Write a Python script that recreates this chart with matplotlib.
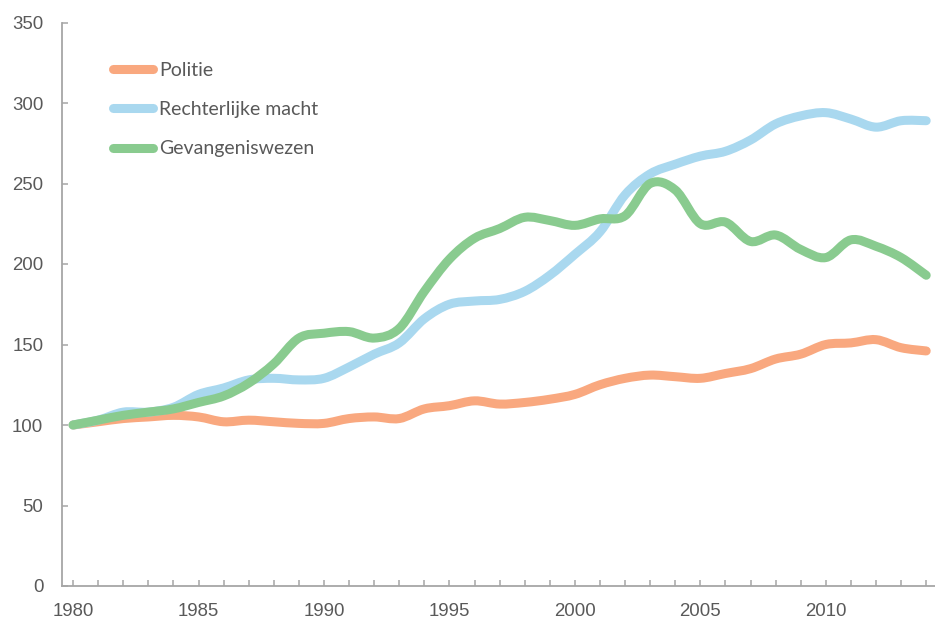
import numpy as np
import matplotlib
matplotlib.use('Agg')
import matplotlib.pyplot as plt
from matplotlib.path import Path
from matplotlib.patches import PathPatch
from matplotlib.lines import Line2D

# index 1980 = 100
years = list(range(1980, 2015))
politie = [100, 102, 104, 105, 106, 105, 102, 103, 102, 101,
           101, 104, 105, 104, 110, 112, 115, 113, 114, 116,
           119, 125, 129, 131, 130, 129, 132, 135, 141, 144,
           150, 151, 153, 148, 146]
rechterlijke_macht = [100, 103, 108, 108, 111, 119, 123, 128, 129, 128,
                      129, 136, 144, 151, 166, 175, 177, 178, 183, 193,
                      206, 220, 243, 256, 262, 267, 270, 277, 287, 292,
                      294, 290, 285, 289, 289]
gevangeniswezen = [100, 103, 106, 108, 110, 114, 118, 126, 138, 154,
                   157, 158, 154, 160, 183, 203, 216, 222, 229, 227,
                   224, 228, 230, 250, 246, 225, 226, 214, 218, 209,
                   204, 215, 211, 204, 193]
names = ['Politie', 'Rechterlijke macht', 'Gevangeniswezen']
colors = ['#f9a87f', '#a9d8ef', '#89cb8f']
tick_labels = [str(y) if y % 5 == 0 else '' for y in years]

TXT = '#595959'
AXC = '#a6a6a6'


def smooth_path(x, y):
    # excel-like smoothed line: bezier segments through every point
    pts = np.column_stack([x, y]).astype(float)
    n = len(pts)
    verts = [pts[0]]
    codes = [Path.MOVETO]
    for i in range(n - 1):
        p0 = pts[max(i - 1, 0)]
        p1 = pts[i]
        p2 = pts[i + 1]
        p3 = pts[min(i + 2, n - 1)]
        verts += [p1 + (p2 - p0) / 6, p2 - (p3 - p1) / 6, p2]
        codes += [Path.CURVE4] * 3
    return Path(verts, codes)


fig = plt.figure(figsize=(9.35, 6.19), dpi=100)
ax = fig.add_axes([62 / 935, 33 / 619, 873 / 935, 563.5 / 619])

handles = []
for vals, name, c in zip([politie, rechterlijke_macht, gevangeniswezen], names, colors):
    patch = PathPatch(smooth_path(years, vals), facecolor='none', edgecolor=c,
                      lw=6.5, capstyle='round', joinstyle='round')
    ax.add_patch(patch)
    handles.append(Line2D([], [], color=c, lw=6.5, solid_capstyle='round', label=name))

ax.set_xlim(1979.56, 2014.35)
ax.set_ylim(0, 350)
ax.set_xticks(years)
ax.set_xticklabels(tick_labels)
ax.set_yticks(range(0, 351, 50))

for s in ['top', 'right']:
    ax.spines[s].set_visible(False)
for s in ['left', 'bottom']:
    ax.spines[s].set_color(AXC)
    ax.spines[s].set_linewidth(1.3)

ax.tick_params(axis='both', direction='in', length=4.5, width=1.1, color=AXC,
               labelcolor=TXT, labelsize=13.4)
ax.tick_params(axis='y', pad=13.5)
ax.tick_params(axis='x', pad=12)
for lbl in ax.get_xticklabels() + ax.get_yticklabels():
    lbl.set_family('Liberation Sans')

leg = ax.legend(handles=handles, loc='upper left',
                bbox_to_anchor=(112.5 / 935, 1 - 62 / 619), bbox_transform=fig.transFigure,
                frameon=False, borderpad=0, borderaxespad=0,
                handlelength=2.1, handletextpad=0.3, labelspacing=1.14,
                prop={'family': 'Lato', 'size': 14})
for t in leg.get_texts():
    t.set_color(TXT)

fig.savefig('out.png', dpi=100)
